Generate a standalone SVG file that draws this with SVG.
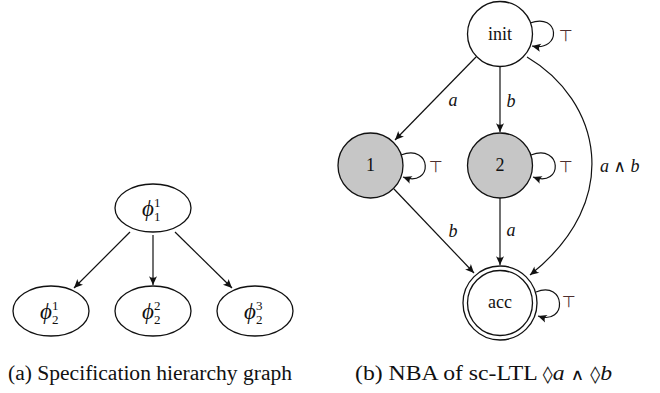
<svg xmlns="http://www.w3.org/2000/svg" width="660" height="393" viewBox="0 0 660 393">
<style>
.e{fill:#fff;stroke:#111;stroke-width:1.3}
.g{fill:#c6c6c6;stroke:#111;stroke-width:1.3}
.c{fill:none;stroke:#111;stroke-width:1.2}
.rm{font-family:"Liberation Serif","DejaVu Serif",serif;font-size:18px;fill:#111;text-anchor:middle}
.mi{font-family:"Liberation Serif","DejaVu Serif",serif;font-style:italic;font-size:18px;fill:#111;text-anchor:middle}
.op{font-family:"DejaVu Sans",sans-serif;font-style:normal;font-size:17px}
.phi{font-family:"Liberation Serif","DejaVu Serif",serif;font-style:italic;font-size:23px;fill:#111}
.sc{font-family:"Liberation Serif","DejaVu Serif",serif;font-size:13px;fill:#111}
.top{font-family:"DejaVu Sans",sans-serif;font-size:16px;fill:#4d2e2e;text-anchor:middle}
.cap{font-family:"Liberation Serif","Times New Roman",serif;font-size:20px;fill:#111}
</style>
<defs>
<marker id="ar" markerUnits="userSpaceOnUse" markerWidth="12" markerHeight="10" refX="0" refY="0" viewBox="-8 -4 9 8" orient="auto">
<path d="M0,0 L-7,-3.2 Q-4.5,0 -7,3.2 Z" fill="#111"/>
</marker>
</defs>

<g id="edges">
<path class="c" d="M130,232 L74,288" marker-end="url(#ar)"/>
<path class="c" d="M153,235 L153,285" marker-end="url(#ar)"/>
<path class="c" d="M175,232 L232,288" marker-end="url(#ar)"/>

<path class="c" d="M530,23 C560,12 562,52 532,46" marker-end="url(#ar)"/>
<path class="c" d="M401,155 C432,143 434,188 403,177" marker-end="url(#ar)"/>
<path class="c" d="M531,155 C562,143 564,188 533,177" marker-end="url(#ar)"/>
<path class="c" d="M536,292 C566,280 568,326 538,316" marker-end="url(#ar)"/>

<path class="c" d="M476,57 L395,140" marker-end="url(#ar)"/>
<path class="c" d="M500,66 L500,132" marker-end="url(#ar)"/>
<path class="c" d="M394,189 L474,273" marker-end="url(#ar)"/>
<path class="c" d="M500,198 L500,265" marker-end="url(#ar)"/>
<path class="c" d="M527,57 C600,100 625,200 530,275" marker-end="url(#ar)"/>

<text class="mi" x="453" y="106">a</text>
<text class="mi" x="511" y="107">b</text>
<text class="mi" x="453" y="237">b</text>
<text class="mi" x="511" y="236">a</text>
<text class="mi" x="600" y="172" style="text-anchor:start">a <tspan class="op">∧</tspan> b</text>
<text class="top" x="566" y="41">⊤</text>
<text class="top" x="436" y="172">⊤</text>
<text class="top" x="566" y="172">⊤</text>
<text class="top" x="569" y="307">⊤</text>
</g>

<g id="phi11">
<ellipse class="e" cx="153" cy="208" rx="38" ry="24"/>
<text class="phi" x="142" y="216">ϕ</text><text class="sc" x="154" y="207">1</text><text class="sc" x="154" y="221">1</text>
</g>
<g id="phi21">
<ellipse class="e" cx="51" cy="311" rx="38" ry="25"/>
<text class="phi" x="40" y="319">ϕ</text><text class="sc" x="52" y="310">1</text><text class="sc" x="52" y="324">2</text>
</g>
<g id="phi22">
<ellipse class="e" cx="153" cy="311" rx="38" ry="25"/>
<text class="phi" x="142" y="319">ϕ</text><text class="sc" x="154" y="310">2</text><text class="sc" x="154" y="324">2</text>
</g>
<g id="phi23">
<ellipse class="e" cx="255" cy="311" rx="38" ry="25"/>
<text class="phi" x="244" y="319">ϕ</text><text class="sc" x="256" y="310">3</text><text class="sc" x="256" y="324">2</text>
</g>

<g id="init">
<circle class="e" cx="500" cy="34" r="32.5"/>
<text class="rm" x="500" y="40">init</text>
</g>
<g id="s1">
<circle class="g" cx="370.5" cy="165.5" r="32.5"/>
<text class="rm" x="370.5" y="171">1</text>
</g>
<g id="s2">
<circle class="g" cx="500" cy="165.5" r="32.5"/>
<text class="rm" x="500" y="171">2</text>
</g>
<g id="acc">
<circle class="e" cx="500" cy="303" r="37"/>
<circle class="e" cx="500" cy="303" r="32.5"/>
<text class="rm" x="500" y="308">acc</text>
</g>

<text class="cap" x="8" y="380" textLength="284" lengthAdjust="spacingAndGlyphs">(a)  Specification hierarchy graph</text>
<text class="cap" x="355" y="380" textLength="257" lengthAdjust="spacingAndGlyphs">(b)  NBA of sc-LTL <tspan font-family="DejaVu Sans" font-size="17">◊</tspan><tspan font-style="italic">a</tspan> <tspan font-family="DejaVu Sans" font-size="16">∧</tspan> <tspan font-family="DejaVu Sans" font-size="17">◊</tspan><tspan font-style="italic">b</tspan></text>
</svg>
